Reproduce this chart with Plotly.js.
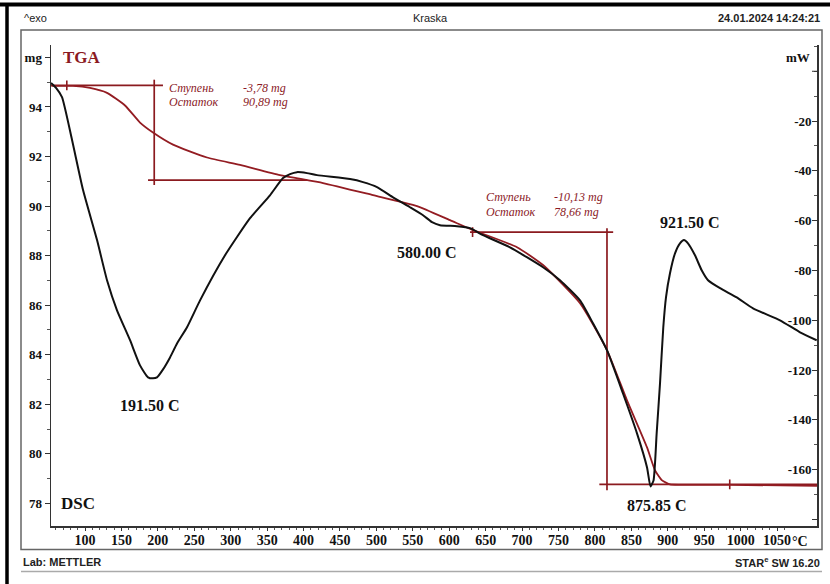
<!DOCTYPE html>
<html>
<head>
<meta charset="utf-8">
<script src="https://cdn.plot.ly/plotly-3.0.1.min.js"></script>
<style>
  html, body { margin: 0; padding: 0; background: #fff; }
  #chart { width: 830px; height: 584px; }
</style>
</head>
<body>
<div id="chart"></div>
<script>
// ---- Data ----
// TGA (mg) vs temperature (°C)
const tgaT  = [54, 83.5, 106.9, 130.2, 154.9, 175.5, 193.3, 220.8, 267.5, 312.8, 367.7, 426.7, 495.3, 555.7, 601.0, 632.6, 693, 728.7, 779.5, 816.6, 844, 871.5, 882.5, 892.1, 903, 916.7, 985.4, 1104.8];
const tgaMg = [94.85, 94.85, 94.77, 94.57, 94.06, 93.37, 92.97, 92.48, 91.96, 91.66, 91.25, 90.93, 90.44, 90.0, 89.43, 89.03, 88.34, 87.62, 86.08, 84.18, 82.16, 80.26, 79.33, 78.93, 78.77, 78.75, 78.75, 78.71];

// DSC (mW) vs temperature (°C)
const dscT  = [53.3, 60.2, 68.4, 82.2, 97.3, 116.5, 130.2, 143.9, 161.8, 175.5, 186.5, 193.3, 198.8, 207.1, 216.7, 226.3, 240.0, 257.9, 292.2, 326.5, 353.9, 371.8, 381.4, 391.0, 404.7, 418.5, 463.8, 481.6, 500.8, 522.8, 546.1, 564.0, 576.3, 587.3, 610.6, 628.5, 646.3, 683.4, 728.7, 752.0, 779.5, 797.3, 816.6, 838.5, 857.7, 871.5, 876.2, 880.4, 884.7, 889.3, 893.8, 897.5, 903.0, 909.9, 916.7, 922.2, 927.7, 937.3, 946.5, 955.2, 971.7, 994.6, 1017.0, 1054.0, 1081.5, 1104.4];
const dscMw = [-4.7, -6.7, -10.4, -27.6, -47.7, -67.8, -83.9, -96.0, -108.0, -118.1, -122.9, -123.3, -122.9, -119.7, -114.9, -109.3, -102.8, -92.0, -73.9, -59.0, -49.8, -42.9, -41.3, -40.5, -40.9, -41.7, -43.3, -44.5, -46.5, -50.6, -54.6, -57.8, -60.6, -61.8, -62.2, -63.0, -65.8, -70.7, -78.7, -83.9, -92.0, -101.2, -112.1, -129.4, -145.4, -159.1, -166.7, -164.3, -145.4, -125.3, -102.8, -90.8, -81.1, -73.1, -69.1, -67.8, -69.1, -73.9, -79.9, -83.9, -87.1, -90.8, -95.2, -100.0, -104.8, -108.0];

// Step evaluation lines (TGA), segments separated by null
const step1T  = [53.3, 207, null, 195, 195, null, 186.5, 405];
const step1Mg = [94.87, 94.87, null, 95.1, 90.85, null, 91.05, 91.05];
const step2T  = [628.5, 825, null, 816.5, 816.5, null, 806, 1104.8];
const step2Mg = [88.95, 88.95, null, 89.11, 78.53, null, 78.77, 78.77];
const limitT  = [75, 632, 985];
const limitMg = [94.87, 88.95, 78.77];

// Labels
const step1Text = ["Ступень", "-3,78 mg", "Остаток", "90,89 mg"];
const step2Text = ["Ступень", "-10,13 mg", "Остаток", "78,66 mg"];
const peakLabels = ["191.50 C", "580.00 C", "875.85 C", "921.50 C"];

const mgTicks = [78, 80, 82, 84, 86, 88, 90, 92, 94, 96];
const mgTickText = ["78", "80", "82", "84", "86", "88", "90", "92", "94", "mg"];
const mwTicks = [-180, -160, -140, -120, -100, -80, -60, -40, -20];
const mwTickText = ["-180", "-160", "-140", "-120", "-100", "-80", "-60", "-40", "-20"];
const tTicks = [100, 150, 200, 250, 300, 350, 400, 450, 500, 550, 600, 650, 700, 750, 800, 850, 900, 950, 1000, 1050];

// ---- Styling ----
const RED = '#931c22';
const STEP = '#8b1a1f';
const SERIF = 'Liberation Serif, Times New Roman, serif';
const SANS = 'Liberation Sans, Arial, sans-serif';

// plot area in page px: x 51..817, y 45..525.6
const L = 51, R = 817, T0 = 45, B0 = 525.6;
const px = v => (v - L) / (R - L);
const py = v => (B0 - v) / (B0 - T0);

const traces = [
  { x: step1T, y: step1Mg, mode: 'lines', line: { color: STEP, width: 1.7 }, hoverinfo: 'skip', showlegend: false },
  { x: step2T, y: step2Mg, mode: 'lines', line: { color: STEP, width: 1.7 }, hoverinfo: 'skip', showlegend: false },
  { x: limitT, y: limitMg, mode: 'markers', marker: { symbol: 'line-ns-open', size: 7, color: STEP, line: { width: 1.6, color: STEP } }, hoverinfo: 'skip', showlegend: false },
  { x: tgaT, y: tgaMg, mode: 'lines', line: { color: RED, width: 1.8, shape: 'spline', smoothing: 0.5 }, showlegend: false },
  { x: dscT, y: dscMw, yaxis: 'y2', mode: 'lines', line: { color: '#111', width: 2, shape: 'spline', smoothing: 0.5 }, showlegend: false }
];

function txt(x, y, text, opts) {
  return Object.assign({ x: x, y: y, xref: 'paper', yref: 'paper', text: text, showarrow: false,
    xanchor: 'left', yanchor: 'middle' }, opts);
}
const stepFont = { family: SERIF, size: 12, color: STEP, style: 'italic' };
const peakFont = { family: SERIF, size: 16, color: '#111', weight: 'bold' };

const annotations = [
  // header / footer
  txt(px(22), py(18), '^exo', { font: { family: SANS, size: 11, color: '#222' } }),
  txt(px(430), py(18), 'Kraska', { xanchor: 'center', font: { family: SANS, size: 11, color: '#222' } }),
  txt(px(822), py(18), '24.01.2024 14:24:21', { xanchor: 'right', font: { family: SANS, size: 11, color: '#222', weight: 'bold' } }),
  txt(px(21), py(562), 'Lab: METTLER', { font: { family: SANS, size: 11, color: '#222', weight: 'bold' } }),
  txt(px(822), py(562), 'STAR<sup>e</sup> SW 16.20', { xanchor: 'right', font: { family: SANS, size: 11, color: '#222', weight: 'bold' } }),
  // axis markers
  txt(px(61), py(57), 'TGA', { font: { family: SERIF, size: 17, color: STEP, weight: 'bold' } }),
  txt(px(59), py(503), 'DSC', { font: { family: SERIF, size: 17, color: '#111', weight: 'bold' } }),
  txt(px(812), py(57), 'mW', { xanchor: 'right', font: { family: SERIF, size: 13, color: '#111', weight: 'bold' } }),
  txt(px(790), py(541), '°C', { xanchor: 'left', font: { family: SERIF, size: 14, color: '#111', weight: 'bold' } }),
  // step texts
  txt(px(167), py(87.5), step1Text[0], { font: stepFont }),
  txt(px(241), py(87.5), step1Text[1], { font: stepFont }),
  txt(px(167), py(101.5), step1Text[2], { font: stepFont }),
  txt(px(241), py(101.5), step1Text[3], { font: stepFont }),
  txt(px(484), py(197), step2Text[0], { font: stepFont }),
  txt(px(552), py(197), step2Text[1], { font: stepFont }),
  txt(px(484), py(212), step2Text[2], { font: stepFont }),
  txt(px(552), py(212), step2Text[3], { font: stepFont }),
  // peak labels
  txt(px(150), py(405), peakLabels[0], { xanchor: 'center', font: peakFont }),
  txt(px(427), py(252), peakLabels[1], { xanchor: 'center', font: peakFont }),
  txt(px(657), py(505), peakLabels[2], { xanchor: 'center', font: peakFont }),
  txt(px(690), py(222), peakLabels[3], { xanchor: 'center', font: peakFont })
];

const shapes = [
  // inner frame
  { type: 'rect', xref: 'paper', yref: 'paper', x0: px(21), x1: px(822), y0: py(549), y1: py(30), line: { color: '#666', width: 1.5 } },
  { type: 'line', xref: 'paper', yref: 'paper', x0: px(21), x1: px(822), y0: py(571), y1: py(571), line: { color: '#aaa', width: 1.5 } },
  // outer black border (top and left)
  { type: 'line', xref: 'paper', yref: 'paper', x0: px(0), x1: px(830), y0: py(4.5), y1: py(4.5), line: { color: '#000', width: 4 } },
  { type: 'line', xref: 'paper', yref: 'paper', x0: px(7), x1: px(7), y0: py(3), y1: py(584), line: { color: '#000', width: 3.5 } },
  // major tick at 0 mW on right axis
  { type: 'line', xref: 'paper', yref: 'y2', x0: px(812), x1: px(817), y0: 0, y1: 0, line: { color: '#333', width: 1 } }
];

const axisFont = { family: SERIF, size: 13, color: '#111', weight: 'bold' };
const xFont = { family: SERIF, size: 14, color: '#111', weight: 'bold' };

const layout = {
  width: 830, height: 584,
  margin: { l: L, r: 830 - R, t: T0, b: 584 - B0, pad: 0 },
  paper_bgcolor: '#fff', plot_bgcolor: '#fff',
  showlegend: false,
  xaxis: {
    range: [53.3, 1104.8], tickvals: tTicks, ticks: 'outside', ticklen: 3, tickwidth: 1, tickcolor: '#333',
    ticklabelstandoff: -2,
    showline: true, linecolor: '#333', linewidth: 1.5, showgrid: false, zeroline: false,
    tickfont: xFont,
    minor: { dtick: 10, tick0: 0, ticks: 'outside', ticklen: 2, tickcolor: '#555' }
  },
  yaxis: {
    range: [77.09, 96.5], tickvals: mgTicks, ticktext: mgTickText, ticks: 'outside', ticklen: 5, tickcolor: '#333',
    showline: true, linecolor: '#333', linewidth: 1.5, showgrid: false, zeroline: false,
    tickfont: axisFont,
    minor: { dtick: 1, tick0: 0, ticks: 'outside', ticklen: 3, tickcolor: '#555' }
  },
  yaxis2: {
    overlaying: 'y', side: 'right', range: [-182.6, 10.55], tickvals: mwTicks, ticktext: mwTickText,
    ticks: 'inside', ticklen: 5, tickcolor: '#333', ticklabelposition: 'inside',
    showline: true, linecolor: '#333', linewidth: 1.5, showgrid: false, zeroline: false,
    tickfont: axisFont,
    minor: { dtick: 10, tick0: 0, ticks: 'inside', ticklen: 3, tickcolor: '#555' }
  },
  annotations: annotations,
  shapes: shapes
};

Plotly.newPlot('chart', traces, layout, { staticPlot: true, displayModeBar: false });
</script>
</body>
</html>
